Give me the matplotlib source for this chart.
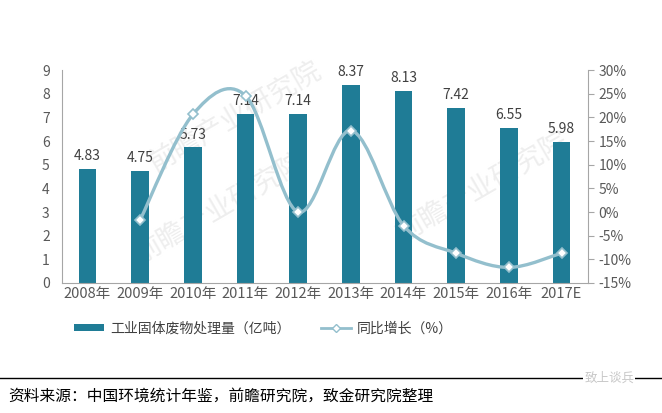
import numpy as np
import matplotlib
matplotlib.use('Agg')
import matplotlib.pyplot as plt
from matplotlib.path import Path
from matplotlib.patches import PathPatch, Patch
from matplotlib.lines import Line2D

plt.rcParams['font.family'] = ['Noto Sans CJK SC', 'DejaVu Sans']

years = ['2008年', '2009年', '2010年', '2011年', '2012年', '2013年', '2014年', '2015年', '2016年', '2017E']
volume = [4.83, 4.75, 5.73, 7.14, 7.14, 8.37, 8.13, 7.42, 6.55, 5.98]
growth = [None, -1.66, 20.63, 24.61, 0.0, 17.23, -2.87, -8.73, -11.73, -8.70]

bar_color = '#1f7c96'
line_color = '#93bfcd'
text_color = '#595959'
axis_color = '#a6a6a6'

fig = plt.figure(figsize=(6.62, 4.13), dpi=100)
ax = fig.add_axes([0.094, 0.315, 0.794, 0.515])
x = np.arange(len(years))

# faint watermarks behind everything
for wx, wy in [(0.33, 0.78), (0.3, 0.35), (0.8, 0.45)]:
    ax.text(wx, wy, '前瞻产业研究院', transform=ax.transAxes, fontsize=20, color='#eeeeee',
            rotation=30, ha='center', va='center', zorder=0)

ax.bar(x, volume, width=0.34, color=bar_color, zorder=2)
for xi, v in zip(x, volume):
    ax.text(xi, v + 0.25, f'{v:.2f}', ha='center', va='bottom', fontsize=10, color='#404040', zorder=5)

ax.set_xlim(-0.48, 9.5)
ax.set_ylim(0, 9)
ax.set_yticks(range(10))
ax.set_xticks(x)
ax.set_xticklabels(years)
ax.tick_params(axis='x', length=0, labelsize=10.5, colors=text_color, pad=3)
ax.tick_params(axis='y', length=0, labelsize=10, colors=text_color, pad=9)
for s in ['top', 'right']:
    ax.spines[s].set_visible(False)
for s in ['left', 'bottom']:
    ax.spines[s].set_color(axis_color)

ax2 = ax.twinx()
ax2.set_ylim(-15, 30)
ax2.set_yticks(range(-15, 31, 5))
ax2.set_yticklabels([f'{t}%' for t in range(-15, 31, 5)])
ax2.tick_params(axis='y', direction='out', length=4, color=axis_color, labelsize=10, colors=text_color)
for s in ['top', 'left', 'bottom']:
    ax2.spines[s].set_visible(False)
ax2.spines['right'].set_color(axis_color)

# smoothed line, bezier through the points like Excel's smoothed line
gx = [xi for xi, g in zip(x, growth) if g is not None]
gy = [g for g in growth if g is not None]
pts = np.column_stack([gx, gy]).astype(float)
verts = [tuple(pts[0])]
codes = [Path.MOVETO]
n = len(pts)
for i in range(n - 1):
    p0 = pts[i - 1] if i > 0 else pts[i]
    p1, p2 = pts[i], pts[i + 1]
    p3 = pts[i + 2] if i + 2 < n else pts[i + 1]
    c1 = p1 + (p2 - p0) / 6
    c2 = p2 - (p3 - p1) / 6
    verts += [tuple(c1), tuple(c2), tuple(p2)]
    codes += [Path.CURVE4] * 3
ax2.add_patch(PathPatch(Path(verts, codes), facecolor='none', edgecolor=line_color, lw=2.4, zorder=3))
ax2.plot(gx, gy, ls='none', marker='D', ms=5, mfc='white', mec=line_color, mew=1.2, zorder=4)

handles = [Patch(facecolor=bar_color, edgecolor='none'),
           Line2D([], [], color=line_color, lw=2, marker='D', ms=4, mfc='white', mec=line_color)]
fig.legend(handles, ['工业固体废物处理量（亿吨）', '同比增长（%）'], loc='center',
           bbox_to_anchor=(0.398, 0.205), ncol=2, frameon=False, fontsize=10,
           labelcolor='#404040', handlelength=2.2, handleheight=0.35, handletextpad=0.4,
           columnspacing=2.2)

line_y = 1 - 378 / 413
fig.add_artist(Line2D([0.0, 1.0], [line_y, line_y], transform=fig.transFigure, color='black', lw=1))
fig.text(0.012, 1 - 396 / 413, '资料来源：中国环境统计年鉴，前瞻研究院，致金研究院整理',
         fontsize=11.3, color='black', va='center', ha='left')
fig.text(0.92, line_y, '致上谈兵', fontsize=9, color='#c8c8c8', va='center', ha='center',
         bbox=dict(facecolor='white', edgecolor='none', pad=1))

fig.savefig('out.png', dpi=100, facecolor='white')
